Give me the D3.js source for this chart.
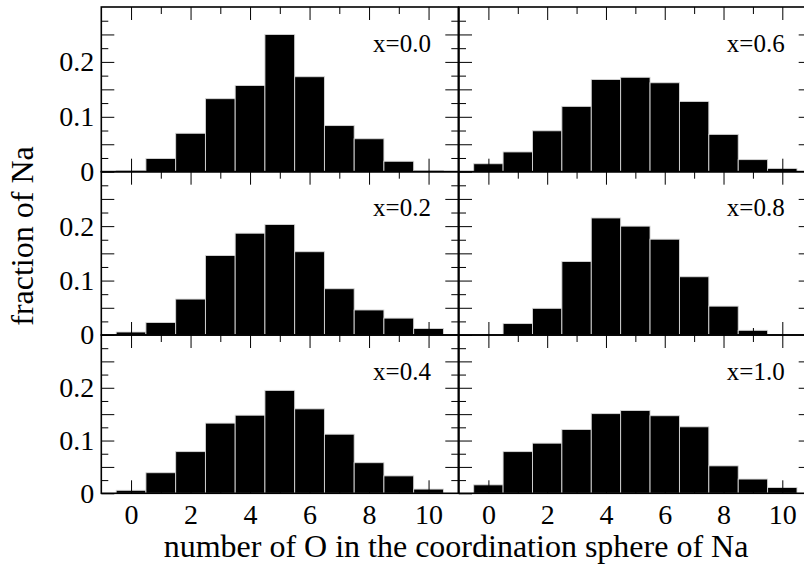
<!DOCTYPE html>
<html>
<head>
<meta charset="utf-8">
<script src="https://cdn.jsdelivr.net/npm/d3@7"></script>
<style>
  html, body { margin: 0; padding: 0; background: #fff; }
  svg { display: block; }
  text { font-family: "Liberation Serif", "Times New Roman", serif; fill: #000; }
</style>
</head>
<body>
<svg id="chart" width="804" height="567"></svg>
<script>
// ---- data ----
const categories = [0, 1, 2, 3, 4, 5, 6, 7, 8, 9, 10];
const panelLabels = ["x=0.0", "x=0.2", "x=0.4", "x=0.6", "x=0.8", "x=1.0"];
const frac_x00 = [0.002, 0.024, 0.070, 0.133, 0.157, 0.250, 0.173, 0.084, 0.060, 0.019, 0.002];
const frac_x02 = [0.0055, 0.023, 0.066, 0.146, 0.187, 0.203, 0.153, 0.085, 0.046, 0.031, 0.012];
const frac_x04 = [0.0057, 0.039, 0.079, 0.133, 0.148, 0.195, 0.160, 0.112, 0.058, 0.033, 0.008];
const frac_x06 = [0.0145, 0.036, 0.0745, 0.119, 0.168, 0.172, 0.162, 0.128, 0.068, 0.022, 0.006];
const frac_x08 = [0, 0.021, 0.049, 0.135, 0.215, 0.200, 0.176, 0.107, 0.053, 0.0086, 0];
const frac_x10 = [0.016, 0.079, 0.095, 0.121, 0.151, 0.157, 0.147, 0.126, 0.052, 0.027, 0.011];
const seriesValues = [frac_x00, frac_x02, frac_x04, frac_x06, frac_x08, frac_x10];
const xMajorTicks = [0, 2, 4, 6, 8, 10];
const xMinorTicks = [1, 3, 5, 7, 9];
const yMajorTicks = [0, 0.05, 0.1, 0.15, 0.2, 0.25];
const yMinorTicks = [0.025, 0.075, 0.125, 0.175, 0.225, 0.275];
const yTickLabels = { "0": "0", "0.1": "0.1", "0.2": "0.2" };
const xTitle = "number of O in the coordination sphere of Na";
const yTitle = "fraction of Na";

// ---- layout ----
const colRanges = [[101.3, 458.3], [459, 811.7]];
const rowRanges = [[7, 171.7], [171.7, 335], [335, 493.3]];
const MAJ = 13, MIN = 7;

const svg = d3.select("#chart");

seriesValues.forEach((vals, i) => {
  const col = Math.floor(i / 3), row = i % 3;
  const x = d3.scaleLinear().domain([-1, 11]).range(colRanges[col]);
  const y = d3.scaleLinear().domain([0, 0.3]).range([rowRanges[row][1], rowRanges[row][0]]);
  const g = svg.append("g");
  const x0 = x.range()[0], x1 = x.range()[1];
  const yTop = y(0.3), yBot = y(0);

  // bars
  g.append("g").selectAll("rect")
    .data(categories.map((c, k) => ({ c, v: vals[k] })).filter(d => d.v > 0))
    .join("rect")
    .attr("x", d => x(d.c - 0.5))
    .attr("width", d => x(d.c + 0.5) - x(d.c - 0.5))
    .attr("y", d => y(d.v))
    .attr("height", d => y(0) - y(d.v))
    .attr("fill", "#000")
    .attr("stroke", "#d8d8d8")
    .attr("stroke-width", 0.9);

  const styleAxis = sel => {
    sel.select(".domain").remove();
    sel.selectAll(".tick line").attr("stroke", "#000").attr("stroke-width", 1);
    sel.selectAll(".tick text").attr("font-size", 28).attr("font-family", "Liberation Serif, serif");
  };

  const isBottom = row === 2;
  // bottom axis (major, with labels on bottom row)
  g.append("g").attr("transform", `translate(0,${yBot})`)
    .call(d3.axisBottom(x).tickValues(xMajorTicks).tickSize(-MAJ).tickSizeOuter(0).tickPadding(11)
      .tickFormat(d => isBottom ? d3.format("d")(d) : ""))
    .call(styleAxis);
  g.append("g").attr("transform", `translate(0,${yBot})`)
    .call(d3.axisBottom(x).tickValues(xMinorTicks).tickSize(-MIN).tickSizeOuter(0).tickFormat(""))
    .call(styleAxis);
  // top axis
  g.append("g").attr("transform", `translate(0,${yTop})`)
    .call(d3.axisTop(x).tickValues(xMajorTicks).tickSize(-MAJ).tickSizeOuter(0).tickFormat(""))
    .call(styleAxis);
  g.append("g").attr("transform", `translate(0,${yTop})`)
    .call(d3.axisTop(x).tickValues(xMinorTicks).tickSize(-MIN).tickSizeOuter(0).tickFormat(""))
    .call(styleAxis);
  // left axis
  g.append("g").attr("transform", `translate(${x0},0)`)
    .call(d3.axisLeft(y).tickValues(yMajorTicks).tickSize(-MAJ).tickSizeOuter(0).tickPadding(7)
      .tickFormat(d => col === 0 ? (yTickLabels[String(+d.toFixed(2))] || "") : ""))
    .call(styleAxis);
  g.append("g").attr("transform", `translate(${x0},0)`)
    .call(d3.axisLeft(y).tickValues(yMinorTicks).tickSize(-MIN).tickSizeOuter(0).tickFormat(""))
    .call(styleAxis);
  // right axis
  g.append("g").attr("transform", `translate(${x1},0)`)
    .call(d3.axisRight(y).tickValues(yMajorTicks.filter(v => v > 0)).tickSize(-MAJ).tickSizeOuter(0).tickFormat(""))
    .call(styleAxis);
  g.append("g").attr("transform", `translate(${x1},0)`)
    .call(d3.axisRight(y).tickValues(yMinorTicks).tickSize(-MIN).tickSizeOuter(0).tickFormat(""))
    .call(styleAxis);

  // frame
  g.append("rect")
    .attr("x", x0).attr("y", yTop)
    .attr("width", x1 - x0).attr("height", yBot - yTop)
    .attr("fill", "none").attr("stroke", "#000").attr("stroke-width", 1.6);

  // panel label
  g.append("text")
    .attr("x", x(10.08))
    .attr("y", y(0.3) + 44.5)
    .attr("text-anchor", "end")
    .attr("font-size", 25)
    .text(panelLabels[i]);
});

// axis titles
svg.append("text")
  .attr("x", 456).attr("y", 557)
  .attr("text-anchor", "middle")
  .attr("font-size", 32)
  .text(xTitle);

svg.append("text")
  .attr("transform", "translate(33,236) rotate(-90)")
  .attr("text-anchor", "middle")
  .attr("font-size", 32)
  .text(yTitle);
</script>
</body>
</html>
